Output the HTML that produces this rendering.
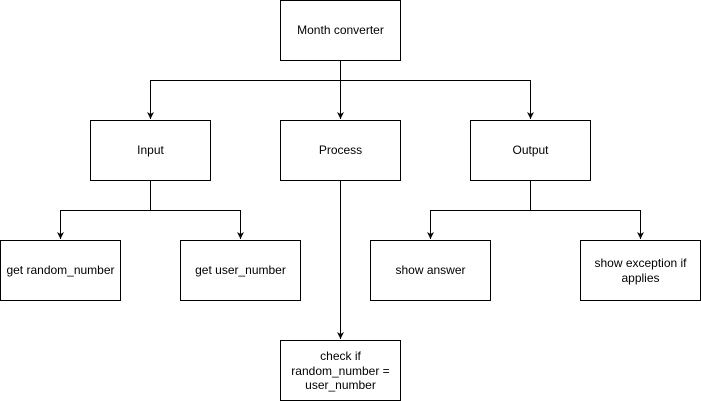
<!DOCTYPE html>
<html><head><style>body{margin:0;background:#fff}svg{display:block}text{font-family:"Liberation Sans",sans-serif;font-size:12px;fill:#000}</style></head>
<body>
<svg width="701" height="401" viewBox="0 0 701 401" xmlns="http://www.w3.org/2000/svg">
<defs><marker id="a" markerWidth="8" markerHeight="8" refX="7" refY="3.5" orient="auto" markerUnits="userSpaceOnUse"><path d="M0,0 L7,3.5 L0,7 L2,3.5 Z" fill="#000"/></marker></defs>
<g fill="#fff" stroke="#000" stroke-width="1">
<rect x="280.5" y="0.5" width="120" height="60"/>
<rect x="90.5" y="120.5" width="120" height="60"/>
<rect x="280.5" y="120.5" width="120" height="60"/>
<rect x="470.5" y="120.5" width="120" height="60"/>
<rect x="0.5" y="240.5" width="120" height="60"/>
<rect x="180.5" y="240.5" width="120" height="60"/>
<rect x="370.5" y="240.5" width="120" height="60"/>
<rect x="580.5" y="240.5" width="120" height="60"/>
<rect x="280.5" y="340.5" width="120" height="60"/>
</g>
<g fill="none" stroke="#000" stroke-width="1">
<path d="M340.5 60.5V80.5H150.5V119" marker-end="url(#a)"/>
<path d="M340.5 60.5V119" marker-end="url(#a)"/>
<path d="M340.5 80.5H530.5V119" marker-end="url(#a)"/>
<path d="M150.5 180.5V210.5H60.5V239" marker-end="url(#a)"/>
<path d="M150.5 210.5H240.5V239" marker-end="url(#a)"/>
<path d="M530.5 180.5V210.5H430.5V239" marker-end="url(#a)"/>
<path d="M530.5 210.5H640.5V239" marker-end="url(#a)"/>
<path d="M340.5 180.5V339" marker-end="url(#a)"/>
</g>
<g text-anchor="middle">
<text x="340.5" y="34">Month converter</text>
<text x="150.5" y="154">Input</text>
<text x="340.5" y="154">Process</text>
<text x="530.5" y="154">Output</text>
<text x="60.5" y="274">get random_number</text>
<text x="240.5" y="274">get user_number</text>
<text x="430.5" y="274">show answer</text>
<text x="640.5" y="267">show exception if</text>
<text x="640.5" y="282">applies</text>
<text x="340.5" y="360">check if</text>
<text x="340.5" y="375">random_number =</text>
<text x="340.5" y="389">user_number</text>
</g>
</svg>
</body></html>
